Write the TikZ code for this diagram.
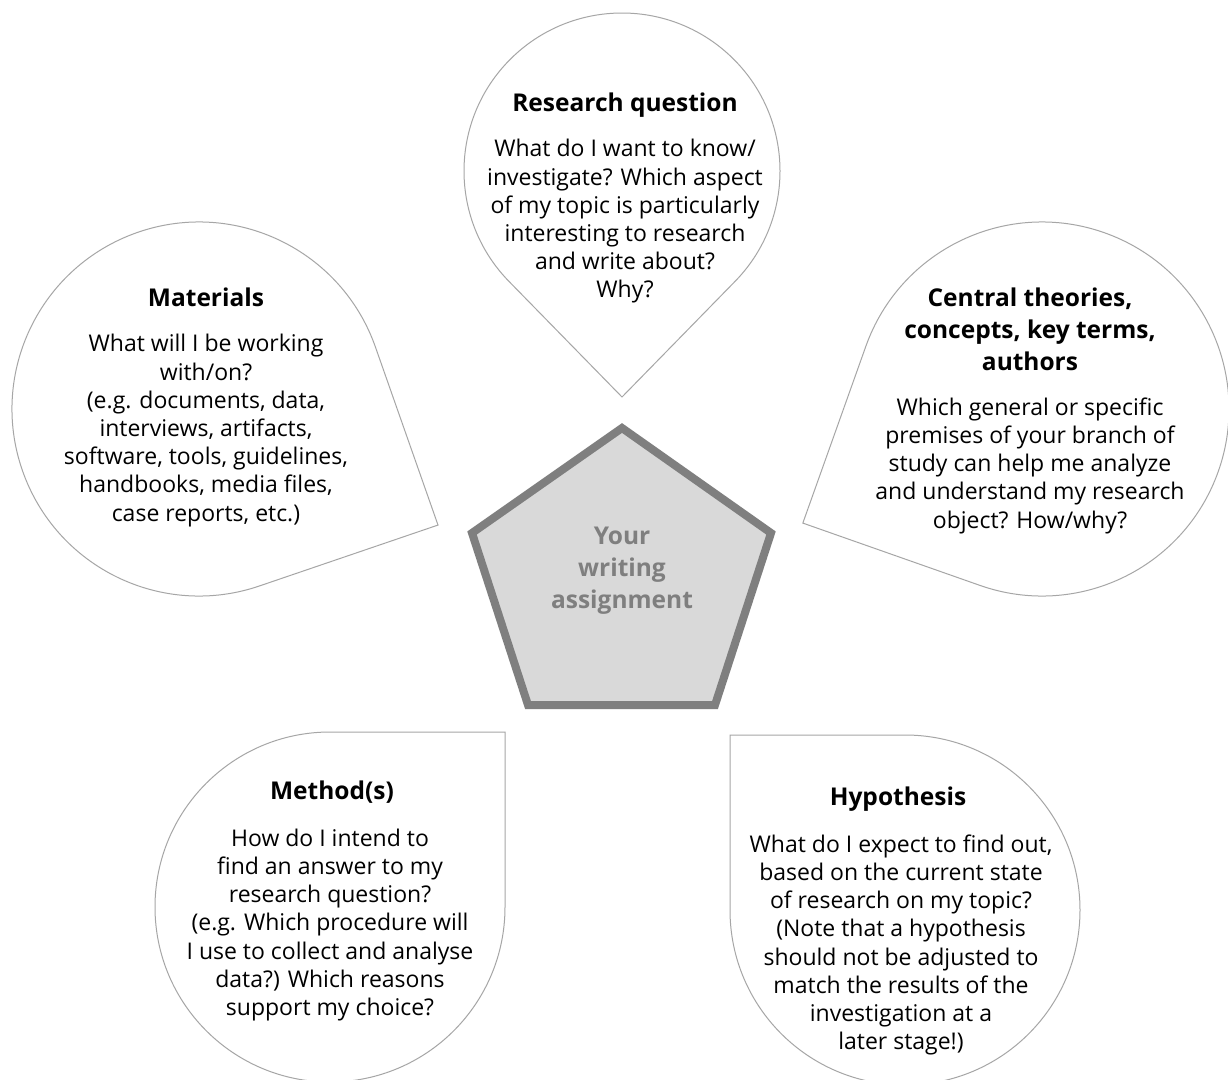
\documentclass[tikz,border=0pt]{standalone}
\usepackage{fontspec}
\setmainfont{Open Sans}
\definecolor{tearline}{HTML}{A6A6A6}
\definecolor{pentfill}{HTML}{D9D9D9}
\definecolor{pentline}{HTML}{7F7F7F}
\newcommand{\teardrop}[6]{%
  % #1 cx, #2 cy, #3 r, #4 tip direction, #5 tip distance, #6 name
  \draw[tear, shift={(#1,#2)}]
    (#4:#5) coordinate (#6) -- ({#4+45}:#3)
    arc[start angle={#4+45}, end angle={#4+315}, radius=#3] -- cycle;}
\begin{document}
\begin{tikzpicture}[x=1pt,y=1pt,
  tear/.style={draw=tearline, line width=1pt, fill=white, line join=miter},
  ttl/.style={anchor=north, inner sep=0pt, align=center, font=\fontsize{24.5}{32}\selectfont\bfseries},
  bdy/.style={anchor=north, inner sep=0pt, align=center, font=\fontsize{23}{28.2}\selectfont},
  pent/.style={draw=pentline, fill=pentfill, line width=8pt, line join=miter},
  penttxt/.style={anchor=north, inner sep=0pt, align=center, text=pentline, font=\fontsize{24.5}{32}\selectfont\bfseries}]
\clip (0,0) rectangle (1228,-1079);
\fill[white] (0,0) rectangle (1228,-1079);

% teardrops
\teardrop{622}{-171}{158}{-90}{226}{rqtip}
\teardrop{199}{-409}{187}{-25.9}{265.7}{mattip}
\teardrop{1042}{-409}{187}{-154.5}{265}{centip}
\teardrop{330}{-907}{175}{45}{247.5}{mettip}
\teardrop{905}{-910}{175}{135}{247.5}{hyptip}

% pentagon
\draw[pent] (622,-428) coordinate (pT) -- (771,-533) coordinate (pR) -- (715,-705) coordinate (pBR)
  -- (528,-705) coordinate (pBL) -- (472,-533) coordinate (pL) -- cycle;
\node[penttxt] (core) at (622,-524) {\rule{0pt}{20pt}Your\\writing\\assignment};

% Research question
\node[ttl] (rqT) at (625,-91) {\rule{0pt}{20pt}Research question};
\node[bdy] (rqB) at (625,-136.7) {\rule{0pt}{20pt}What do I want to know/\\investigate? Which aspect\\of my topic is particularly\\interesting to research\\and write about?\\Why?};

% Materials
\node[ttl] (matT) at (206,-286) {\rule{0pt}{20pt}Materials};
\node[bdy] (matB) at (206,-331.7) {\rule{0pt}{20pt}What will I be working\\with/on?\\(e.g. documents, data,\\interviews, artifacts,\\software, tools, guidelines,\\handbooks, media files,\\case reports, etc.)};

% Central theories
\node[ttl] (cenT) at (1030,-286) {\rule{0pt}{20pt}Central theories,\\concepts, key terms,\\authors};
\node[bdy] (cenB) at (1030,-395) {\rule{0pt}{20pt}Which general or specific\\premises of your branch of\\study can help me analyze\\and understand my research\\object? How/why?};

% Methods
\node[ttl] (metT) at (332,-779) {\rule{0pt}{20pt}Method(s)};
\node[bdy] (metB) at (330,-826) {\rule{0pt}{20pt}How do I intend to\\find an answer to my\\research question?\\(e.g. Which procedure will\\I use to collect and analyse\\data?) Which reasons\\support my choice?};

% Hypothesis
\node[ttl] (hypT) at (898,-785) {\rule{0pt}{20pt}Hypothesis};
\node[bdy] (hypB) at (901,-832) {\rule{0pt}{20pt}What do I expect to find out,\\based on the current state\\of research on my topic?\\(Note that a hypothesis\\should not be adjusted to\\match the results of the\\investigation at a\\later stage!)};
\end{tikzpicture}
\end{document}
